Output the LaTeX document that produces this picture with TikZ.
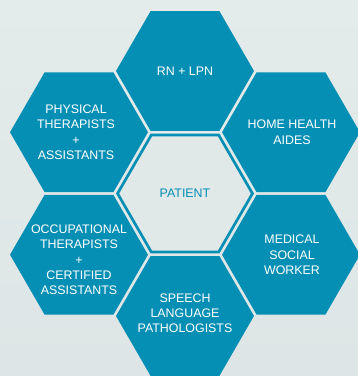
\documentclass[tikz,border=0pt]{standalone}
\usepackage{fontspec}
\setmainfont{Liberation Sans}
\usetikzlibrary{shapes.geometric}
\usetikzlibrary{positioning}
\tikzset{hexa/.style = {regular polygon, regular polygon sides = 6, fill = mteal, inner sep = 0, minimum size = 138}}
\tikzset{lbl/.style = {text = white, align = center, inner sep = 0, font = \fontsize{12.4}{15.2}\selectfont}}
\definecolor{mteal}{RGB}{6, 143, 180}
\definecolor{mbg}{RGB}{224, 232, 232}

\begin{document}
\begin{tikzpicture}[x=1pt, y=-1pt]
      \useasboundingbox (0, 0) rectangle (358, 376);
      \clip (0, 0) rectangle (358, 376);
      \shade [top color={rgb,255:red,227;green,236;blue,234}, bottom color={rgb,255:red,221;green,229;blue,230}] (0, 0) rectangle (358, 376);

      \node [hexa] (rn) at (185, 71) {};
      \node [hexa] (phys) at (79, 132.25) {};
      \node [hexa] (home) at (291, 132.25) {};
      \node [hexa] (occ) at (79, 254.75) {};
      \node [hexa] (med) at (291, 254.75) {};
      \node [hexa] (speech) at (185, 316) {};
      \node [hexa, fill=mbg, draw=mteal, line width=2.7, minimum size=134.9] (patient) at (185, 193.5) {};

      \node [lbl] (rn-txt) at (rn) {RN + LPN};
      \node [lbl] (phys-txt) at ([xshift=-3]phys) {PHYSICAL\\THERAPISTS\\+\\ASSISTANTS};
      \node [lbl] (home-txt) at ([xshift=1]home) {HOME HEALTH\\AIDES};
      \node [lbl] (occ-txt) at ([yshift=-5]occ) {OCCUPATIONAL\\THERAPISTS\\+\\CERTIFIED\\ASSISTANTS};
      \node [lbl] (med-txt) at ([xshift=1]med) {MEDICAL\\SOCIAL\\WORKER};
      \node [lbl] (speech-txt) at ([yshift=3]speech) {SPEECH\\LANGUAGE\\PATHOLOGISTS};
      \node [lbl, text=mteal] (patient-txt) at (patient) {PATIENT};
    \end{tikzpicture}
\end{document}
